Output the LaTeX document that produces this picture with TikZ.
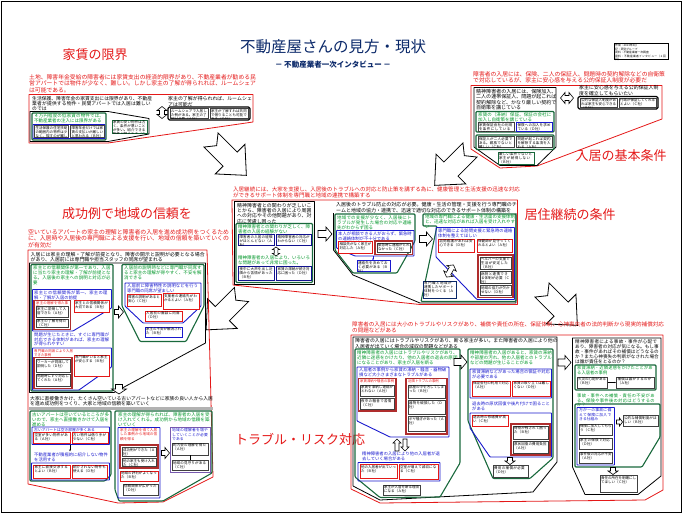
\documentclass[tikz,border=0pt]{standalone}
\usepackage{fontspec}
\setmainfont{Noto Sans CJK JP}
\usetikzlibrary{arrows.meta}
\XeTeXlinebreaklocale "ja"
\XeTeXlinebreakskip=0pt plus 1pt
\definecolor{rd}{RGB}{228,24,24}
\definecolor{drd}{RGB}{175,45,45}
\definecolor{gn}{RGB}{0,150,40}
\definecolor{dgn}{RGB}{25,105,60}
\definecolor{bl}{RGB}{25,25,205}
\definecolor{nv}{RGB}{10,40,105}
\definecolor{pu}{RGB}{120,90,175}
\tikzset{
 tx/.style={inner sep=0pt, anchor=north west, align=left},
 rdt/.style={tx, text=rd, font=\fontsize{5.8}{6.3}\selectfont},
 bkt/.style={tx, font=\fontsize{4.9}{5.3}\selectfont},
 gnt/.style={tx, text=gn, font=\fontsize{4.5}{5}\selectfont},
 blt/.style={tx, text=bl, font=\fontsize{4.3}{4.8}\selectfont},
 rst/.style={tx, text=rd, font=\fontsize{3.4}{4}\selectfont},
 smt/.style={tx, font=\fontsize{3.5}{4}\selectfont},
 lab/.style={text=rd, inner sep=0pt, font=\fontsize{13}{13}\selectfont},
 rf/.style={draw=rd, line width=0.8pt, line join=round},
 kf/.style={draw=black, line width=0.8pt, line join=round},
 gf/.style={draw=dgn, line width=1.1pt, rounded corners=1pt},
 bf/.style={draw=bl, line width=0.9pt, rounded corners=0.6pt},
 sbx/.style={draw=black!75, line width=0.35pt, fill=white},
 rbx/.style={draw=rd, line width=0.5pt, fill=white},
 rdb/.style={draw=drd, line width=1.1pt},
 harr/.style={draw=black, line width=0.6pt, fill=white, line join=miter},
 barr/.style={draw=black, line width=0.8pt, fill=white, line join=miter},
}
\newcommand{\mytb}[6]{%
  \draw[#5] (#1,#2) rectangle (#3,#4);
  \begin{scope}
    \clip (#1,#2) rectangle (#3,#4);
    \pgfmathsetmacro{\tbw}{#3-#1-1.6}
    \node[smt, text width=\tbw pt] at ({#1+0.8},{#2+0.8}) {#6};
  \end{scope}}
\newcommand{\harrow}[7]{\draw[harr, shift={(#1,#2)}, rotate=#3] (0,-#5) -- ({#4-#7},-#5) -- ({#4-#7},-#6) -- (#4,0) -- ({#4-#7},#6) -- ({#4-#7},#5) -- (0,#5) -- cycle;}
\newcommand{\bigarrow}[3]{\draw[barr, shift={(#1,#2)}, rotate=#3] (0,-10) -- (27,-10) -- (27,-21) -- (50,0) -- (27,21) -- (27,10) -- (0,10) -- (8,0) -- cycle;}
\newcommand{\darrow}[7]{\draw[harr, shift={(#1,#2)}, rotate=#3] (-#4,0) -- ({-#4+#7},-#6) -- ({-#4+#7},-#5) -- ({#4-#7},-#5) -- ({#4-#7},-#6) -- (#4,0) -- ({#4-#7},#6) -- ({#4-#7},#5) -- ({-#4+#7},#5) -- ({-#4+#7},#6) -- cycle;}
\begin{document}
\begin{tikzpicture}[x=1pt,y=-1pt]
\useasboundingbox (0,0) rectangle (683,514);
\draw[line width=0.8pt] (1.5,1.5) rectangle (681.5,512.5);

% ---------- title
\node[text=nv, font=\fontsize{15.5}{16}\selectfont] (title) at (333,47) {不動産屋さんの見方・現状};
\node[text=nv, font=\fontsize{7.5}{8}\selectfont\bfseries] (sub) at (333,65) {－ 不動産業者一次インタビュー －};
\draw[line width=0.4pt] (614,43) rectangle (668,59);
\node[tx, font=\fontsize{2.8}{3.4}\selectfont, text width=52pt] (info) at (615,44.3) {作成：2013年3月\\記：研究グループ\\資料：不動産業者一次調査\\資料：不動産業者インタビュー（１回目）};

% ---------- top-left : 家賃の限界
\node[lab] (l1) at (95,55) {家賃の限界};
\node[rdt, text width=227pt] (tlr) at (29,74.5) {土地、障害年金受給の障害者には家賃支出の経済的限界があり、不動産業者が勧める民営アパートでは物件が少なく、難しい。しかし家主の了解が得られれば、ルームシェアは可能である。};
\draw[rf] (29,94.5) -- (253,94.5) -- (253,122) -- (108,143) -- (29,143) -- cycle;
\node[bkt, font=\fontsize{4.8}{5}\selectfont, text width=120pt] (tlk) at (32,96.5) {生活保護、障害年金の家賃支出には限界があり、不動産業者が提供する物件・民間アパートでは入居は難しいのでは};
\draw[kf] (30,111.5) -- (108,111.5) -- (149,118.5) -- (149,134) -- (108,141.5) -- (30,141.5) -- cycle;
\draw[gf, fill=white] (32,113) rectangle (106,140);
\node[gnt, text width=71pt] (tlg) at (34,114) {４万円程度の低家賃の物件では、不動産業者の注入には限界がある};
\draw[bf] (33,124.5) rectangle (105,138.5);
\mytb{34.5}{125.5}{68.5}{137.5}{sbx}{生活保護の住宅扶助の範囲内の物件は少なく、探すのが難しい（Ａ社）}
\mytb{70.5}{125.5}{104}{137.5}{sbx}{障害年金だけでは家賃の支払いが厳しいと思われる（Ｂ社）}
\mytb{112}{120}{147}{133}{sbx, draw=dgn}{家賃の安い物件は古く、条件が悪いことが多い。紹介できる物件が限られる（Ｃ社）}
\darrow{162}{112.5}{90}{6}{2.5}{5}{4}
\node[bkt, text width=84pt] (tlk2) at (168,96.5) {家主の了解が得られれば、ルームシェアは可能だ};
\draw[kf, line width=1.2pt, rounded corners=1.5pt] (168,107) rectangle (250,120);
\mytb{170}{108.5}{208}{118.5}{sbx}{ルームシェアで入居した例がある。家主の了解が必要（Ａ社）}
\mytb{210}{108.5}{248}{118.5}{sbx}{家主が了解すれば共同で借りることも可能である（Ｄ社）}

% ---------- top-right : 入居の基本条件
\node[rdt, text width=192pt] (trr) at (473,71.5) {障害者の入居には、保険、二人の保証人、問題時の契約解除などの自衛策で対応しているが、家主に安心感を与える公的保証人制度が必要だ};
\draw[rf] (471,85.5) -- (662,85.5) -- (662,119) -- (537,166) -- (500,168) -- (471,149) -- cycle;
\draw[kf] (474,87.5) -- (556,87.5) -- (556,147) -- (537,165.5) -- (500,165.5) -- (474,147) -- cycle;
\node[bkt, font=\fontsize{5}{5.4}\selectfont, text width=80.5pt] (trk) at (476,89) {精神障害者の入居には、保険加入、二人の連帯保証人、問題が起これば契約解除など、かなり厳しい契約で自衛策を講じている};
\draw[gf] (476,111.5) rectangle (554,132);
\node[gnt, text width=74pt] (trg) at (478,112.5) {家賃の（滞納）保証、保証の会社に加入し自衛策を講じている};
\mytb{478}{122.5}{514.5}{131}{sbx}{家賃保証会社の利用を条件にしている（Ｂ社）}
\mytb{516.5}{122.5}{552.5}{131}{sbx, draw=bl}{保険への加入を求めている（Ｄ社）}
\draw[gf] (476,135) rectangle (554,149.5);
\mytb{478}{136.5}{514.5}{147.5}{sbx}{保証人が二人必要である。親族でないと難しい（Ｃ社）}
\mytb{516.5}{136.5}{552.5}{147.5}{sbx}{問題が起これば契約を解除する条項を入れる（Ａ社）}
\mytb{498}{152}{534}{164}{sbx, draw=dgn}{厳しい条件でないと家主が納得しない（Ｂ社）}
\darrow{567}{98}{0}{6.5}{2.5}{5.5}{4.5}
\node[bkt, text width=80pt] (trk2) at (579,85.5) {家主に安心感を与える公的保証人制度を確立してもらいたい};
\draw[kf, line width=1.2pt, rounded corners=1.5pt] (578,96.5) rectangle (658,109);
\mytb{580}{98}{617}{107.5}{sbx}{公的な保証人制度があれば家主も安心できる（Ｂ社）}
\mytb{619}{98}{656}{107.5}{sbx}{行政が保証してくれるとよい（Ｃ社）}
\node[lab] (l2) at (621,156) {入居の基本条件};

% ---------- big arrows
\bigarrow{211}{140}{-45}
\bigarrow{470}{150}{-135}
\bigarrow{241.5}{294.5}{-135}
\bigarrow{542}{290}{-45}

% ---------- middle : 居住継続の条件
\node[rdt, font=\fontsize{5.5}{6}\selectfont, text width=287pt] (mr) at (233,186.5) {入居継続には、大家を支援し、入居後のトラブルへの対応と防止策を講ずる為に、健康管理と生活支援の迅速な対応ができるサポート体制を専門職と地域の連携で構築する};
\draw[rf] (232,200) -- (517.5,200) -- (517.5,304.5) -- (420,304.5) -- (233,285) -- cycle;
\node[lab] (l3) at (570,215) {居住継続の条件};
\draw[kf] (234.5,201.5) rectangle (314,284);
\node[bkt, text width=75pt] (mk1) at (237,203) {精神障害者との関わりが乏しいことから、障害者の入居により周囲への対応やその他問題があり、対応に苦慮し困った};
\draw[gf] (236,223.5) rectangle (312.5,282.5);
\node[gnt, text width=72pt] (mg1) at (238,224.5) {精神障害者との関わりが乏しく、障害者の入居の経験がない};
\mytb{238.5}{234.5}{274.5}{245.5}{sbx, draw=bl!70!black}{障害者の入居の経験がほとんどない（Ａ社）}
\mytb{276.5}{234.5}{311}{245.5}{sbx, draw=bl!70!black}{精神障害者の対応がわからない（Ｃ社）}
\darrow{276}{251.5}{90}{4.5}{1.8}{3.6}{2.6}
\node[gnt, text width=72pt] (mg2) at (238,256) {精神障害者の入居により、いろいろな問題があって非常に困った。};
\mytb{238.5}{266.5}{274.5}{280.5}{sbx, draw=bl!70!black}{夜中に大声を出し近隣から苦情があった（Ｂ社）}
\mytb{276.5}{266.5}{311}{280.5}{sbx, draw=bl!70!black}{家賃の滞納が続き対応に困った（Ｄ社）}
\harrow{318}{234}{0}{14}{3.5}{7}{6}
\node[bkt, font=\fontsize{5}{5.4}\selectfont, text width=181pt] (mk2) at (336,202.5) {入居後のトラブル防止の対応が必要。健康・生活の管理・支援を行う専門職のチームと地域の協力・連携で、迅速で適切な対応のできるサポート体制の構築を};
\draw[kf] (333.5,213) -- (333.5,250) -- (353,275) -- (420,303) -- (516,303) -- (516,213);
\draw[gf] (335,214) -- (415,214) -- (415,241) -- (397,273) -- (353,273) -- (335,250) -- cycle;
\node[gnt, text width=76pt] (mg3) at (337,215) {地域での支援が少なく、入居後にトラブルが発生した場合の対応や連絡先がわからず困る};
\draw[bf] (336.5,230.5) -- (414,230.5) -- (414,256) -- (355,256) -- (336.5,248) -- cycle;
\node[blt, text width=74pt] (mb1) at (338,231.5) {本人が相談できる人がおらず、緊急時の連絡体制が不十分である};
\mytb{338.5}{241.5}{372.5}{253.5}{rbx}{相談先がなく家主が対応した（Ａ社）}
\draw[rdb] (375,241) rectangle (412.5,254.5);
\mytb{377}{243}{410.5}{252.5}{sbx}{緊急時に連絡がとれなかった（Ｃ社）}
\draw[bl, line width=0.6pt, -{Stealth[length=2pt]}] (373,256) -- (373,260.5);
\mytb{357}{260.5}{390}{271}{sbx, draw=bl}{連絡先を決めておく必要がある（Ｂ社）}
\harrow{419.5}{239}{0}{13}{3.5}{7}{6}
\draw[gf] (423,214) -- (516,214) -- (516,301.5) -- (421,301.5) -- (437,226) -- (423,226) -- cycle;
\node[gnt, text width=90pt] (mg4) at (425,215) {地域の専門職による健康・生活面の支援体制と、迅速な対応があれば入居を受け入れやすい};
\draw[bf] (436,227.5) -- (514.5,227.5) -- (514.5,299.5) -- (477,299.5) -- (436,257) -- cycle;
\node[blt, text width=75pt] (mb2) at (438,228.5) {専門職による訪問支援と緊急時の連絡体制を整えてほしい};
\mytb{438.5}{239}{474.5}{252}{rbx}{訪問看護があれば安心できる（Ｄ社）}
\mytb{477}{239}{512.5}{252}{rbx}{保健師が見守ってくれるとよい（Ａ社）}
\draw[rdb] (478,255) rectangle (513,297.5);
\mytb{480}{257}{511}{269.5}{sbx}{ヘルパーの支援で生活が安定した（Ｂ社）}
\mytb{480}{271.5}{511}{283.5}{sbx}{病院と連携できる体制が必要（Ｃ社）}
\mytb{480}{285.5}{511}{295.5}{sbx}{地域の協力が欠かせない（Ｄ社）}
\darrow{450}{271}{60}{7}{2.5}{5.5}{4}
\mytb{423}{281}{456}{298.5}{sbx, draw=nv, line width=0.6pt}{専門職と地域が連携したサポート体制をつくる（Ａ社）}

% ---------- left : 成功例で地域の信頼を
\node[lab] (l4) at (127,214) {成功例で地域の信頼を};
\node[rdt, font=\fontsize{5.9}{6.3}\selectfont, text width=201pt] (lr) at (28,229.5) {空いているアパートの家主の理解と障害者の入居を進め成功例をつくるために、入居時や入居後の専門職による支援を行い、地域の信頼を築いていくのが有効だ};
\draw[rf] (28,250) -- (207,250) -- (213,477) -- (163,502) -- (118,503) -- (28,484) -- cycle;
\node[bkt, text width=175pt] (lk1) at (30.5,252) {入居には家主の理解・了解が前提となり、障害の開示と説明が必要となる場合があり、入居前には専門職や担当スタッフの同席が望まれる};
\draw[kf] (29.5,263) -- (205.5,263) -- (205.5,343) -- (114,392.5) -- (29.5,392.5) -- cycle;
\draw[gf] (31,264.5) rectangle (113,391);
\node[gnt, text width=78pt] (lg1) at (33,265.5) {家主との信頼関係が第一であり、入居に当たり家主の理解・了解が前提となる。入居後の家主への説明と対応が必要};
\draw[bf] (32.5,289.5) -- (111.5,289.5) -- (111.5,308) -- (73,331) -- (32.5,331) -- cycle;
\node[blt, text width=76pt] (lb1) at (34,290.5) {家主との信頼関係が第一、家主の理解・了解が入居の前提};
\draw[rdb] (34,300.5) rectangle (70.5,329.5);
\node[rst, text width=33pt] at (36,301.5) {家主の理解を得た事例};
\mytb{36}{306.5}{68.5}{317}{sbx}{家主に説明して入居できた（Ａ社）}
\mytb{36}{319}{68.5}{327.5}{sbx}{家主の了解を得た（Ｃ社）}
\mytb{74}{300.5}{109.5}{312}{rbx}{家主との信頼関係が大切である（Ｂ社）}
\node[blt, text width=76pt] (lb2) at (34,332.5) {問題が生じたときに、すぐに専門職が対応できる体制があれば、家主の理解が得られやすい};
\draw[bf] (32.5,348) -- (111.5,348) -- (111.5,367) -- (79,390) -- (32.5,390) -- cycle;
\node[rst, text width=40pt] at (34,349) {専門職の同席により入居できた事例};
\draw[rdb] (34,357.5) rectangle (72,388.5);
\mytb{36}{359.5}{70}{372}{sbx}{ワーカーが同席して説明した（Ｄ社）}
\mytb{36}{374}{70}{386.5}{sbx}{問題時にすぐ対応してくれた（Ａ社）}
\mytb{74}{355}{109}{376}{rbx}{専門職がいると家主が安心する（Ｂ社）}
\harrow{114.5}{312}{0}{9}{2.5}{6}{5}
\draw[gf] (122,264.5) -- (204,264.5) -- (204,306) -- (186,341.5) -- (140,341.5) -- (122,306) -- cycle;
\node[gnt, text width=78pt] (lg2) at (124,265.5) {入居前の説明時などに専門職が同席すると家主の理解が得やすく、不安を解消できる};
\draw[bf] (125,283) -- (201,283) -- (201,306) -- (183,323) -- (143,323) -- (125,306) -- cycle;
\node[blt, text width=72pt] (lb3) at (127,284) {入居前に障害特性の説明などを行う専門職の同席が望ましい};
\mytb{127}{294.5}{161}{306}{rbx}{障害の説明があると安心（Ｃ社）}
\mytb{163}{293.5}{199}{309}{rbx}{支援者の連絡先がわかるとよい（Ａ社）}
\mytb{145}{311}{182}{321}{rbx}{入居前の面談に同席（Ｄ社）}
\mytb{145}{327}{182}{337}{sbx, draw=bl}{家主の不安が解消された（Ｂ社）}
\harrow{119}{384.5}{-90}{9.5}{3.5}{7.5}{5}
\node[bkt, font=\fontsize{4.8}{5.2}\selectfont, text width=183pt] (lk2) at (30,396) {大家に直接働きかけ、たくさん空いている古いアパートなどに家族の良い人から入居を進め成功例をつくり、大家と地域の信頼を築いていく};
\fill[gray!60] (29,407) rectangle (212.5,410);
\draw[gf] (30,411) -- (111,411) -- (111,475) -- (105,481) -- (30,481) -- cycle;
\node[gnt, text width=77pt] (lg3) at (32,412) {古いアパートは空いているところが多いので、家主へ直接働きかけて入居を進める};
\draw[bf] (32,427) rectangle (109.5,444.5);
\node[blt, font=\fontsize{3.8}{4.3}\selectfont, text width=74pt] at (34,427.8) {古いアパートは空き部屋が多くある};
\mytb{33.5}{432.5}{70}{443}{rbx}{空室が多い物件がある（Ａ社）}
\mytb{72}{432.5}{108}{443}{rbx}{古い物件は借り手が少ない（Ｃ社）}
\draw[line width=0.5pt, -{Stealth[length=2pt]}] (70,444.5) -- (70,451.5);
\node[blt, text width=74pt] (lb4) at (34,452.5) {不動産業者が積極的に紹介しない物件を活用する};
\draw[bf] (31.5,463) rectangle (109.5,480);
\mytb{33.5}{465}{70}{478}{rbx}{家主に直接交渉するとよい（Ｂ社）}
\mytb{72}{465}{107.5}{478}{rbx}{紹介されない物件も使える（Ｄ社）}
\draw[gf] (115,411) -- (212,411) -- (212,473) -- (163,501) -- (119,501) -- (115,490) -- cycle;
\node[gnt, text width=92pt] (lg4) at (118,412) {家主の理解が得られれば、障害者の入居を受け入れてくれる。成功例から地域の信頼を築いていく};
\draw[bf] (118,427.5) rectangle (160,498);
\node[rst, font=\fontsize{3.6}{4.2}\selectfont, text width=38pt] at (120,428.5) {家主の理解を得て入居した事例から地域の信頼を得る};
\draw[rdb] (120,445) rectangle (158,468);
\mytb{122}{447}{156}{456.5}{sbx}{成功例ができた（Ａ社）}
\mytb{122}{458.5}{156}{466}{sbx}{他の家主も受け入れた（Ｃ社）}
\mytb{120}{471}{158}{481}{rbx}{地域の評判がよくなった（Ｂ社）}
\mytb{123}{484}{158}{495.5}{sbx}{信頼関係が広がった（Ｄ社）}
\harrow{161.5}{453}{0}{8}{2.5}{5.5}{4.5}
\draw[draw=pu, line width=0.9pt] (170,427.5) rectangle (210,472);
\node[blt, font=\fontsize{3.8}{4.3}\selectfont, text width=37pt] at (172,428.5) {地域の理解者を増やしていくことが必要である};
\mytb{172}{443}{208}{455}{sbx}{町内会の理解を得た（Ａ社）}
\draw[line width=0.4pt] (190,455) -- (190,460.5);
\mytb{172}{460.5}{208}{470.5}{sbx}{地域の見守りがある（Ｃ社）}

% ---------- bottom-right : トラブル・リスク対応
\node[lab] (l5) at (300,439) {トラブル・リスク対応};
\node[rdt, font=\fontsize{5.55}{6}\selectfont, text width=312pt] (br) at (352,322) {障害者の入居には大小のトラブルやリスクがあり、補償や責任の所在、保証体制、心神喪失者の法的判断から現実的補償対応の問題などがある};
\draw[rf] (351,335) -- (663,335) -- (663,490) -- (645,500) -- (380,503) -- (351,489) -- cycle;
\node[bkt, text width=203pt] (bk1) at (355,338.5) {障害者の入居にはトラブルやリスクがあり、断る家主が多い。また障害者の入居により他の入居者が出ていく場合の減収の問題などがある};
\draw[kf] (353,337) -- (557,337) -- (557,462) -- (533,492) -- (380,500) -- (353,486) -- cycle;
\draw[gf] (355,349) -- (460,349) -- (460,463) -- (440,497) -- (380,497.5) -- (355,477) -- cycle;
\node[gnt, text width=101pt] (bg1) at (357,350) {精神障害者の入居にはトラブルやリスクがあり、近隣に迷惑をかけたり、他の入居者の退去の原因になることがあり、家主が入居を断る};
\draw[bf] (357,367) -- (449,367) -- (449,437) -- (390,437) -- (357,421) -- cycle;
\node[blt, text width=88pt] (bb1) at (359,368) {入居者の事例から家賃の滞納・騒音・器物破損など大小さまざまなトラブルがある};
\draw[rdb] (358.5,378.5) rectangle (396,411);
\node[rst, text width=34pt] at (360,379.5) {家賃滞納や騒音の事例};
\mytb{360}{385}{394.5}{396.5}{sbx}{家賃を滞納し連絡がとれない（Ａ社）}
\mytb{360}{398.5}{394.5}{409.5}{sbx}{夜中の騒音で苦情（Ｃ社）}
\draw[rdb] (406,378.5) rectangle (447,434);
\node[rst, text width=37pt] at (408,379.5) {近隣トラブルの事例};
\mytb{408}{385}{445}{398}{sbx}{部屋の中を汚してしまった（Ｂ社）}
\mytb{408}{400.5}{445}{414}{sbx}{器物を破損した（Ｄ社）}
\mytb{408}{416.5}{445}{431.5}{sbx}{ボヤ騒ぎがあった（Ａ社）}
\harrow{397}{451}{90}{12}{2}{4}{4}
\harrow{405}{439}{-90}{12}{2}{4}{4}
\node[blt, text width=78pt] (bb2) at (362,452) {精神障害者の入居により他の入居者が退去していく場合がある};
\draw[bf] (358,462.5) rectangle (440,481);
\mytb{360}{464.5}{397}{478.5}{rbx}{他の入居者が出ていった（Ｂ社）}
\mytb{399}{464.5}{438}{479}{rbx}{空室が増えて減収になる（Ｃ社）}
\mytb{383}{485}{420}{495.5}{sbx}{家主が入居を断る理由になる（Ａ社）}
\harrow{454}{362}{0}{13}{3.5}{7}{6}
\draw[gf] (468,349) -- (553,349) -- (553,458) -- (530,478.5) -- (493,478.5) -- (468,421) -- cycle;
\node[gnt, text width=82pt] (bg2) at (470,350) {精神障害者の入居があると、家賃の滞納や部屋の汚れ、他の入居者とのトラブルなどの問題が生じることがある};
\draw[bf] (470,369) rectangle (551.5,398);
\node[blt, text width=78pt] (bb3) at (472,370) {家賃滞納などがあった場合の保証や対応が必要である};
\mytb{472}{381}{510}{396.5}{rbx}{保証会社の利用で対応（Ａ社）}
\mytb{512.5}{381}{550}{396.5}{rbx}{家賃の取り立ては難しくない（Ｄ社）}
\node[blt, text width=78pt] (bb4) at (472,401.5) {退去時の原状回復や後片付けで困ることがある};
\draw[bf] (470,413) -- (551.5,413) -- (551.5,457) -- (490,457) -- (470,428) -- cycle;
\mytb{472}{415}{508}{426.5}{rbx}{退去時の修繕費が高い（Ｃ社）}
\draw[rdb] (511,424) rectangle (550,455);
\mytb{513}{426}{548}{439}{sbx}{荷物が残されて困った（Ｂ社）}
\mytb{513}{441.5}{548}{453}{sbx}{原状回復の費用負担（Ａ社）}
\harrow{510}{457.5}{-90}{7}{2.5}{5}{3.5}
\mytb{493}{465.5}{528}{477}{sbx}{費用の補償が必要（Ｄ社）}
\harrow{558}{362.5}{0}{13}{3.5}{7}{6}
\draw[kf] (572.5,338) -- (661,338) -- (661,476) -- (638,494.5) -- (585,494.5) -- (572.5,467) -- cycle;
\node[bkt, font=\fontsize{4.6}{5}\selectfont, text width=84pt] (bk2) at (575,339.5) {精神障害者による事故・事件が心配であり、障害者の対応が気になる。もし事故・事件があればその補償はどうなるのか？また心神喪失の判断がなされた場合は誰が責任をとるのか？};
\draw[gf] (575,365) rectangle (656,390);
\node[gnt, font=\fontsize{4.3}{4.8}\selectfont, text width=77pt] (bg3) at (577,366) {家賃滞納・近隣迷惑をかけたことがある入居者の事例};
\mytb{577}{377}{607}{388}{sbx}{火災の心配がある（Ｂ社）}
\draw[line width=0.4pt, -{Stealth[length=1.5pt]}] (607.5,382.5) -- (616,382.5);
\mytb{616.5}{377}{654}{388}{sbx}{補償は誰がするのか（Ａ社）}
\node[gnt, font=\fontsize{4.3}{4.8}\selectfont, text width=80pt] (bg4) at (577,393.5) {事故・事件への補償・責任の不安がある。保険や事件後の対応はどうするのか？};
\draw[gf] (575,404) -- (660,404) -- (660,437) -- (642,467) -- (575,467) -- cycle;
\draw[bf] (577,407.5) rectangle (614.5,465);
\node[blt, font=\fontsize{3.8}{4.3}\selectfont, text width=34pt] at (579,408.5) {万が一の事故に備えて保険に加入できる仕組み};
\mytb{579}{424}{612.5}{435.5}{sbx}{保険に加入してもらう（Ｃ社）}
\mytb{579}{438}{612.5}{449.5}{sbx}{家主の保険で対応（Ｄ社）}
\mytb{579}{452}{612.5}{463}{sbx}{事件後の対応が不安（Ａ社）}
\harrow{616.5}{422}{0}{6}{2}{4}{3}
\mytb{623}{415.5}{658}{426}{sbx}{公的な補償制度がほしい（Ｂ社）}
\harrow{613}{467.5}{-90}{7}{2.5}{5}{3.5}
\mytb{600}{475.5}{637}{492}{sbx}{責任の所在を明確にしてほしい（Ｃ社）}
\end{tikzpicture}
\end{document}
